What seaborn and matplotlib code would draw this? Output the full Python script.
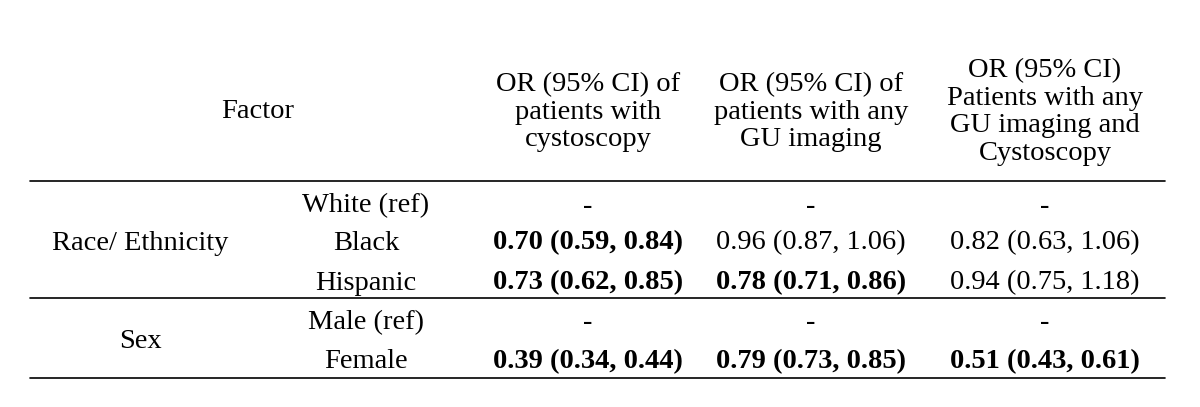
import matplotlib.pyplot as plt
import seaborn as sns

sns.set_theme(style="white")
plt.rcParams['font.family'] = ['Liberation Serif', 'DejaVu Serif']
plt.rcParams['text.color'] = 'black'

headers = ["OR (95% CI) of\npatients with\ncystoscopy",
           "OR (95% CI) of\npatients with any\nGU imaging",
           "OR (95% CI)\nPatients with any\nGU imaging and\nCystoscopy"]
groups = ["Race/ Ethnicity", "Sex"]
levels = ["White (ref)", "Black", "Hispanic", "Male (ref)", "Female"]
cysto = ["-", "0.70 (0.59, 0.84)", "0.73 (0.62, 0.85)", "-", "0.39 (0.34, 0.44)"]
imaging = ["-", "0.96 (0.87, 1.06)", "0.78 (0.71, 0.86)", "-", "0.79 (0.73, 0.85)"]
both = ["-", "0.82 (0.63, 1.06)", "0.94 (0.75, 1.18)", "-", "0.51 (0.43, 0.61)"]
bold_cysto = [False, True, True, False, True]
bold_imaging = [False, False, True, False, True]
bold_both = [False, False, False, False, True]

fig, ax = plt.subplots(figsize=(12, 4.07), dpi=100)
fig.subplots_adjust(0, 0, 1, 1)
ax.set_xlim(0, 1200)
ax.set_ylim(407, 0)
ax.axis('off')

fs = 20.5
col_x = [588, 811, 1045]
ax.text(258, 112, "Factor", ha='center', va='center', fontsize=fs)
for x, h in zip(col_x, headers):
    ax.text(x, 112, h, ha='center', va='center', fontsize=fs, linespacing=1.15)

for y in [181, 298, 378]:
    ax.plot([30, 1165], [y, y], color='black', lw=1.2)

row_y = [206, 243, 283, 323, 362]
ax.text(140, 243, groups[0], ha='center', va='center', fontsize=fs)
ax.text(140, 342, groups[1], ha='center', va='center', fontsize=fs)
for i, y in enumerate(row_y):
    ax.text(366, y, levels[i], ha='center', va='center', fontsize=fs)
    for x, vals, bold in zip(col_x, [cysto, imaging, both],
                             [bold_cysto, bold_imaging, bold_both]):
        ax.text(x, y, vals[i], ha='center', va='center', fontsize=fs,
                fontweight='bold' if bold[i] else 'normal')

plt.savefig("out.png", dpi=100)
plt.close()
